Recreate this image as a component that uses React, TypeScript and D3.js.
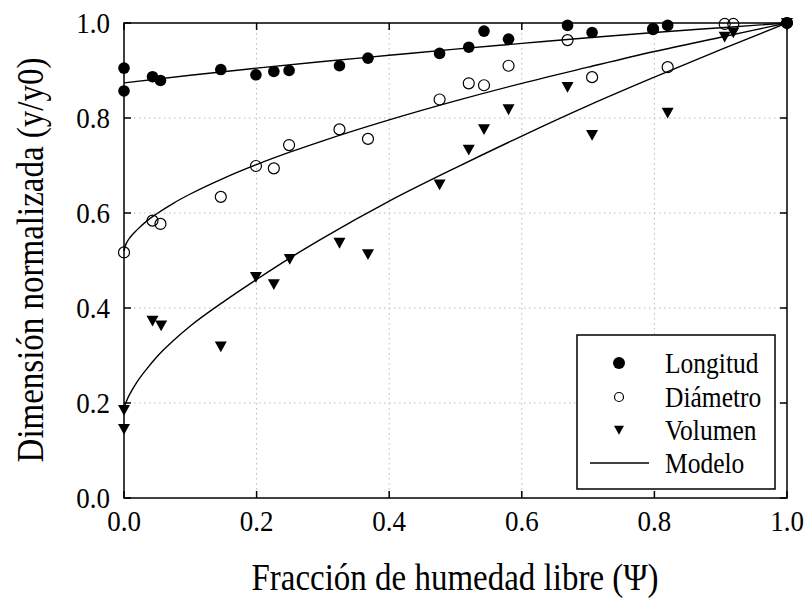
import React, { useEffect, useRef } from 'react';
import * as d3 from 'd3';

// measured points
const psiLong = [0, 0, 0.043, 0.055, 0.146, 0.199, 0.226, 0.249, 0.325, 0.368, 0.476, 0.52, 0.543, 0.58, 0.669, 0.706, 0.798, 0.82, 1.0];
const longVals = [0.905, 0.857, 0.887, 0.879, 0.902, 0.891, 0.898, 0.9, 0.91, 0.926, 0.936, 0.949, 0.983, 0.966, 0.995, 0.98, 0.988, 0.995, 1.0];

const psiDiam = [0, 0.043, 0.055, 0.146, 0.199, 0.226, 0.249, 0.325, 0.368, 0.476, 0.52, 0.543, 0.58, 0.669, 0.706, 0.798, 0.82, 0.906, 0.919, 1.0];
const diamVals = [0.517, 0.584, 0.577, 0.634, 0.699, 0.694, 0.743, 0.776, 0.756, 0.839, 0.873, 0.869, 0.91, 0.964, 0.886, 0.987, 0.907, 0.998, 0.998, 1.0];

const psiVol = [0, 0, 0.043, 0.056, 0.146, 0.199, 0.226, 0.25, 0.325, 0.368, 0.476, 0.52, 0.543, 0.58, 0.669, 0.706, 0.82, 0.906, 0.919, 1.0];
const volVals = [0.185, 0.145, 0.373, 0.363, 0.319, 0.465, 0.45, 0.503, 0.537, 0.513, 0.66, 0.733, 0.776, 0.818, 0.865, 0.764, 0.811, 0.971, 0.98, 1.0];

// model curves
const longModelPsi = [0, 0.1, 0.2, 0.3, 0.4, 0.5, 0.6, 0.7, 0.8, 0.9, 1.0];
const longModelVals = [0.874, 0.89, 0.905, 0.919, 0.932, 0.945, 0.957, 0.969, 0.98, 0.99, 1.0];

const diamModelPsi = [0, 0.002, 0.005, 0.01, 0.02, 0.035, 0.05, 0.075, 0.1, 0.15, 0.2, 0.25, 0.3, 0.4, 0.5, 0.6, 0.7, 0.8, 0.9, 1.0];
const diamModelVals = [0.52, 0.531, 0.54, 0.55, 0.565, 0.584, 0.599, 0.621, 0.64, 0.673, 0.702, 0.728, 0.752, 0.796, 0.836, 0.873, 0.907, 0.94, 0.97, 1.0];

const volModelPsi = [0, 0.002, 0.005, 0.01, 0.02, 0.035, 0.05, 0.075, 0.1, 0.15, 0.2, 0.25, 0.3, 0.4, 0.5, 0.6, 0.7, 0.8, 0.9, 1.0];
const volModelVals = [0.185, 0.197, 0.208, 0.222, 0.245, 0.273, 0.298, 0.332, 0.362, 0.413, 0.46, 0.505, 0.547, 0.625, 0.695, 0.762, 0.826, 0.886, 0.944, 1.0];

const ticks = [0, 0.2, 0.4, 0.6, 0.8, 1.0];
const legendLabels = ['Longitud', 'Diámetro', 'Volumen', 'Modelo'];

const font = '"Liberation Serif", "Times New Roman", serif';
const stretch = 1.12;

export default function App() {
  const ref = useRef<SVGSVGElement>(null);

  useEffect(() => {
    const svg = d3.select(ref.current);
    svg.selectAll('*').remove();

    const left = 124, right = 787, top = 23, bottom = 498;
    const x = d3.scaleLinear().domain([0, 1]).range([left, right]);
    const y = d3.scaleLinear().domain([0, 1]).range([bottom, top]);

    const label = (px: number, py: number, txt: string, size: number, anchor: string) =>
      svg.append('text')
        .attr('transform', `translate(${px},${py}) scale(1,${stretch})`)
        .attr('text-anchor', anchor)
        .attr('font-family', font).attr('font-size', size)
        .text(txt);

    // grid
    const grid = svg.append('g');
    ticks.slice(1, -1).forEach(t => {
      grid.append('line')
        .attr('x1', x(t)).attr('x2', x(t)).attr('y1', top).attr('y2', bottom)
        .attr('stroke', '#b8b8b8').attr('stroke-width', 1).attr('stroke-dasharray', '1.5,3.5');
      grid.append('line')
        .attr('x1', left).attr('x2', right).attr('y1', y(t)).attr('y2', y(t))
        .attr('stroke', '#b8b8b8').attr('stroke-width', 1).attr('stroke-dasharray', '1.5,3.5');
    });

    // frame + inward ticks
    const frame = svg.append('g').attr('stroke', '#000').attr('stroke-width', 1.5);
    frame.append('rect')
      .attr('x', left).attr('y', top).attr('width', right - left).attr('height', bottom - top)
      .attr('fill', 'none');
    ticks.forEach(t => {
      frame.append('line').attr('x1', x(t)).attr('x2', x(t)).attr('y1', bottom).attr('y2', bottom - 7);
      frame.append('line').attr('x1', x(t)).attr('x2', x(t)).attr('y1', top).attr('y2', top + 7);
      frame.append('line').attr('x1', left).attr('x2', left + 7).attr('y1', y(t)).attr('y2', y(t));
      frame.append('line').attr('x1', right).attr('x2', right - 7).attr('y1', y(t)).attr('y2', y(t));
    });

    // tick labels
    ticks.forEach(t => {
      label(x(t), 531, t.toFixed(1), 27, 'middle');
      label(110, y(t) + 9.5, t.toFixed(1), 27, 'end');
    });

    // axis titles
    label(455, 590, 'Fracción de humedad libre (Ψ)', 33, 'middle');
    svg.append('text')
      .attr('transform', `translate(43, 260) rotate(-90) scale(1,${stretch})`)
      .attr('text-anchor', 'middle')
      .attr('font-family', font).attr('font-size', 33)
      .text('Dimensión normalizada (y/y0)');

    // model lines
    const line = d3.line<[number, number]>()
      .x(d => x(d[0]))
      .y(d => y(d[1]))
      .curve(d3.curveMonotoneX);
    const models: [number[], number[]][] = [
      [longModelPsi, longModelVals],
      [diamModelPsi, diamModelVals],
      [volModelPsi, volModelVals],
    ];
    models.forEach(([px, py]) => {
      svg.append('path')
        .datum(px.map((p, i) => [p, py[i]] as [number, number]))
        .attr('fill', 'none')
        .attr('stroke', '#000')
        .attr('stroke-width', 1.4)
        .attr('d', line);
    });

    const tri = (s: number) => `M${-s},${-s * 0.85}L${s},${-s * 0.85}L0,${s * 0.95}Z`;

    // markers
    svg.append('g').selectAll('path')
      .data(psiVol.map((p, i) => [p, volVals[i]]))
      .join('path')
      .attr('transform', d => `translate(${x(d[0])},${y(d[1])})`)
      .attr('d', tri(6))
      .attr('fill', '#000');

    svg.append('g').selectAll('circle')
      .data(psiLong.map((p, i) => [p, longVals[i]]))
      .join('circle')
      .attr('cx', d => x(d[0])).attr('cy', d => y(d[1])).attr('r', 5.8)
      .attr('fill', '#000');

    svg.append('g').selectAll('circle')
      .data(psiDiam.map((p, i) => [p, diamVals[i]]))
      .join('circle')
      .attr('cx', d => x(d[0])).attr('cy', d => y(d[1])).attr('r', 5.5)
      .attr('fill', 'none').attr('stroke', '#000').attr('stroke-width', 1.2);

    // legend
    const lg = svg.append('g');
    lg.append('rect')
      .attr('x', 577).attr('y', 335).attr('width', 198).attr('height', 154)
      .attr('fill', '#fff').attr('stroke', '#000').attr('stroke-width', 1.5);
    const rowY = [363, 397, 430, 463];
    const symX = 619;
    lg.append('circle').attr('cx', symX).attr('cy', rowY[0]).attr('r', 6).attr('fill', '#000');
    lg.append('circle').attr('cx', symX).attr('cy', rowY[1]).attr('r', 4.5)
      .attr('fill', 'none').attr('stroke', '#000').attr('stroke-width', 1.2);
    lg.append('path').attr('transform', `translate(${symX},${rowY[2]})`).attr('d', tri(5)).attr('fill', '#000');
    lg.append('line').attr('x1', 590).attr('x2', 649).attr('y1', rowY[3]).attr('y2', rowY[3])
      .attr('stroke', '#000').attr('stroke-width', 1.4);
    legendLabels.forEach((l, i) => {
      lg.append('text')
        .attr('transform', `translate(665,${rowY[i] + 9.5}) scale(1,${stretch})`)
        .attr('font-family', font).attr('font-size', 25.5)
        .text(l);
    });
  }, []);

  return (
    <div style={{ position: 'absolute', left: 0, top: 0 }}>
      <svg ref={ref} width={807} height={606} style={{ display: 'block', background: '#fff' }} />
    </div>
  );
}
